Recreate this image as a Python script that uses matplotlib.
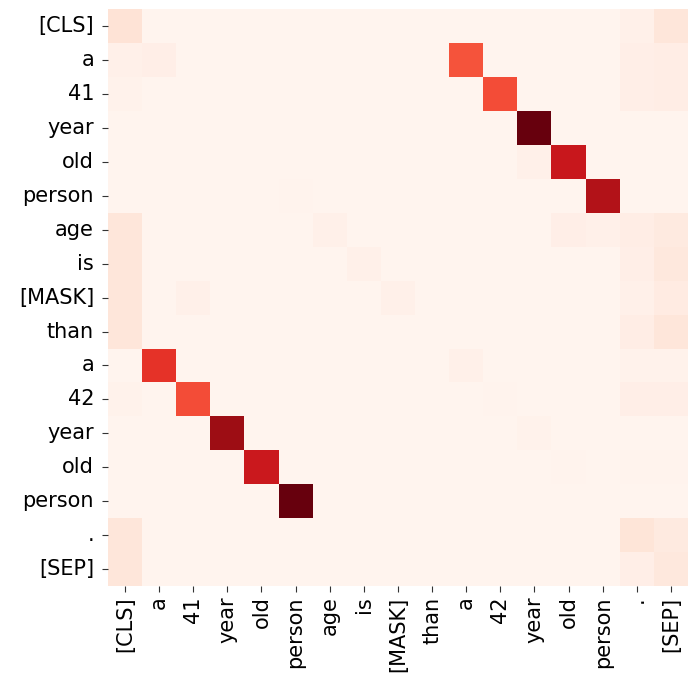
import numpy as np
import matplotlib
matplotlib.use("Agg")
import matplotlib.pyplot as plt
import seaborn as sns

tokens = ["[CLS]", "a", "41", "year", "old", "person", "age", "is", "[MASK]",
          "than", "a", "42", "year", "old", "person", ".", "[SEP]"]

base_value = 0.01
# (row, col, value) attention weights
cells = [
    (0, 0, 0.11), (0, 15, 0.03), (0, 16, 0.09),
    (1, 0, 0.03), (1, 1, 0.04), (1, 10, 0.56), (1, 15, 0.04), (1, 16, 0.05),
    (2, 0, 0.02), (2, 11, 0.58), (2, 15, 0.04), (2, 16, 0.05),
    (3, 12, 1.00),
    (4, 12, 0.03), (4, 13, 0.76),
    (5, 5, 0.015), (5, 14, 0.83),
    (6, 0, 0.09), (6, 6, 0.03), (6, 13, 0.04), (6, 14, 0.03), (6, 15, 0.05), (6, 16, 0.07),
    (7, 0, 0.09), (7, 7, 0.03), (7, 15, 0.04), (7, 16, 0.08),
    (8, 0, 0.09), (8, 2, 0.03), (8, 8, 0.03), (8, 15, 0.03), (8, 16, 0.06),
    (9, 0, 0.09), (9, 15, 0.05), (9, 16, 0.09),
    (10, 1, 0.66), (10, 10, 0.03), (10, 15, 0.02), (10, 16, 0.02),
    (11, 0, 0.02), (11, 2, 0.58), (11, 11, 0.015), (11, 15, 0.04), (11, 16, 0.04),
    (12, 3, 0.89), (12, 12, 0.02),
    (13, 4, 0.75), (13, 13, 0.012), (13, 15, 0.015), (13, 16, 0.015),
    (14, 5, 1.00),
    (15, 0, 0.09), (15, 15, 0.10), (15, 16, 0.07),
    (16, 0, 0.09), (16, 15, 0.04), (16, 16, 0.08),
]

n = len(tokens)
attn = np.full((n, n), base_value)
for r, c, v in cells:
    attn[r, c] = v

fig = plt.figure(figsize=(6.9, 6.85), dpi=100)
ax = fig.add_axes([0.1565, 0.1445, 0.8405, 0.842])
sns.heatmap(attn, cmap="Reds", vmin=0, vmax=1, cbar=False, ax=ax,
            xticklabels=tokens, yticklabels=tokens, square=False)
ax.tick_params(axis="both", labelsize=15, length=4, color="#333333")
ax.tick_params(axis="y", pad=6)
plt.setp(ax.get_xticklabels(), rotation=90)
plt.setp(ax.get_yticklabels(), rotation=0)
fig.savefig("out.png", dpi=100)
